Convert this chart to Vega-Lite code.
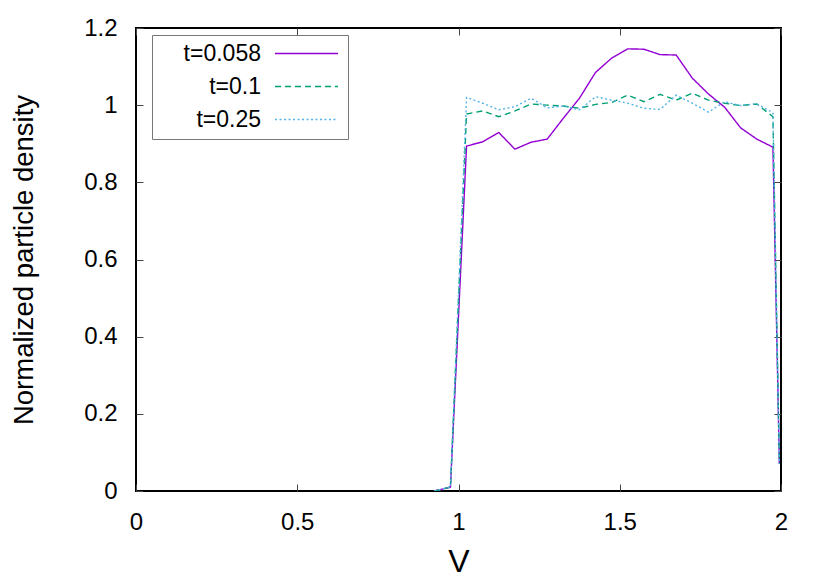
{
  "$schema": "https://vega.github.io/schema/vega-lite/v6.json",
  "autosize": "none",
  "width": 645,
  "height": 463,
  "padding": {"left": 136, "top": 28, "right": 49, "bottom": 90},
  "background": "white",
  "config": {
    "view": {"stroke": "black", "strokeWidth": 2},
    "font": "Liberation Sans",
    "legend": {
      "orient": "none", "legendX": 16, "legendY": 7, "title": null,
      "symbolType": "M-3,0H3", "symbolSize": 441, "symbolStrokeWidth": 1.4, "symbolFillColor": "transparent",
      "labelFontSize": 23, "labelColor": "black", "labelAlign": "right", "labelBaseline": "middle",
      "labelOffset": -57, "symbolOffset": 136, "padding": 7, "rowPadding": 9,
      "strokeColor": "#777", "fillColor": "white", "cornerRadius": 0
    }
  },
  "datasets": {
    "d": [
      {"v": 0.925, "y": 0, "t": "t=0.058"},
      {"v": 0.975, "y": 0.01, "t": "t=0.058"},
      {"v": 1.025, "y": 0.894, "t": "t=0.058"},
      {"v": 1.075, "y": 0.905, "t": "t=0.058"},
      {"v": 1.125, "y": 0.929, "t": "t=0.058"},
      {"v": 1.175, "y": 0.886, "t": "t=0.058"},
      {"v": 1.225, "y": 0.904, "t": "t=0.058"},
      {"v": 1.275, "y": 0.912, "t": "t=0.058"},
      {"v": 1.325, "y": 0.966, "t": "t=0.058"},
      {"v": 1.375, "y": 1.018, "t": "t=0.058"},
      {"v": 1.425, "y": 1.085, "t": "t=0.058"},
      {"v": 1.475, "y": 1.122, "t": "t=0.058"},
      {"v": 1.525, "y": 1.146, "t": "t=0.058"},
      {"v": 1.575, "y": 1.145, "t": "t=0.058"},
      {"v": 1.625, "y": 1.131, "t": "t=0.058"},
      {"v": 1.675, "y": 1.130, "t": "t=0.058"},
      {"v": 1.725, "y": 1.070, "t": "t=0.058"},
      {"v": 1.775, "y": 1.029, "t": "t=0.058"},
      {"v": 1.825, "y": 0.995, "t": "t=0.058"},
      {"v": 1.875, "y": 0.941, "t": "t=0.058"},
      {"v": 1.925, "y": 0.912, "t": "t=0.058"},
      {"v": 1.975, "y": 0.891, "t": "t=0.058"},
      {"v": 1.995, "y": 0.07, "t": "t=0.058"},
      {"v": 0.925, "y": 0, "t": "t=0.1"},
      {"v": 0.975, "y": 0.01, "t": "t=0.1"},
      {"v": 1.025, "y": 0.977, "t": "t=0.1"},
      {"v": 1.075, "y": 0.985, "t": "t=0.1"},
      {"v": 1.125, "y": 0.970, "t": "t=0.1"},
      {"v": 1.175, "y": 0.985, "t": "t=0.1"},
      {"v": 1.225, "y": 1.003, "t": "t=0.1"},
      {"v": 1.275, "y": 1.000, "t": "t=0.1"},
      {"v": 1.325, "y": 0.998, "t": "t=0.1"},
      {"v": 1.375, "y": 0.992, "t": "t=0.1"},
      {"v": 1.425, "y": 1.002, "t": "t=0.1"},
      {"v": 1.475, "y": 1.007, "t": "t=0.1"},
      {"v": 1.525, "y": 1.026, "t": "t=0.1"},
      {"v": 1.575, "y": 1.009, "t": "t=0.1"},
      {"v": 1.625, "y": 1.028, "t": "t=0.1"},
      {"v": 1.675, "y": 1.013, "t": "t=0.1"},
      {"v": 1.725, "y": 1.031, "t": "t=0.1"},
      {"v": 1.775, "y": 1.013, "t": "t=0.1"},
      {"v": 1.825, "y": 1.005, "t": "t=0.1"},
      {"v": 1.875, "y": 0.999, "t": "t=0.1"},
      {"v": 1.925, "y": 1.003, "t": "t=0.1"},
      {"v": 1.975, "y": 0.970, "t": "t=0.1"},
      {"v": 1.995, "y": 0.07, "t": "t=0.1"},
      {"v": 0.925, "y": 0, "t": "t=0.25"},
      {"v": 0.975, "y": 0.01, "t": "t=0.25"},
      {"v": 1.025, "y": 1.020, "t": "t=0.25"},
      {"v": 1.075, "y": 1.005, "t": "t=0.25"},
      {"v": 1.125, "y": 0.988, "t": "t=0.25"},
      {"v": 1.175, "y": 0.996, "t": "t=0.25"},
      {"v": 1.225, "y": 1.018, "t": "t=0.25"},
      {"v": 1.275, "y": 0.993, "t": "t=0.25"},
      {"v": 1.325, "y": 0.998, "t": "t=0.25"},
      {"v": 1.375, "y": 0.988, "t": "t=0.25"},
      {"v": 1.425, "y": 1.022, "t": "t=0.25"},
      {"v": 1.475, "y": 1.013, "t": "t=0.25"},
      {"v": 1.525, "y": 1.005, "t": "t=0.25"},
      {"v": 1.575, "y": 0.992, "t": "t=0.25"},
      {"v": 1.625, "y": 0.989, "t": "t=0.25"},
      {"v": 1.675, "y": 1.026, "t": "t=0.25"},
      {"v": 1.725, "y": 1.005, "t": "t=0.25"},
      {"v": 1.775, "y": 0.982, "t": "t=0.25"},
      {"v": 1.825, "y": 1.009, "t": "t=0.25"},
      {"v": 1.875, "y": 0.999, "t": "t=0.25"},
      {"v": 1.925, "y": 1.004, "t": "t=0.25"},
      {"v": 1.975, "y": 0.980, "t": "t=0.25"},
      {"v": 1.995, "y": 0.07, "t": "t=0.25"}
    ]
  },
  "data": {"name": "d"},
  "layer": [
    {
      "mark": {"type": "line", "strokeWidth": 1.4, "clip": true},
      "encoding": {
        "x": {
          "field": "v", "type": "quantitative",
          "scale": {"domain": [0, 2], "nice": false, "zero": false},
          "axis": {
            "orient": "bottom", "values": [0, 0.5, 1, 1.5, 2], "format": "~g",
            "domain": false, "grid": false, "tickSize": -7, "tickColor": "#444", "tickWidth": 1,
            "labelFontSize": 24, "labelColor": "black", "labelPadding": 26, "labelFlush": false,
            "title": "V", "titleFontSize": 32, "titleFontWeight": "normal", "titleColor": "black", "titlePadding": 12
          }
        },
        "y": {
          "field": "y", "type": "quantitative",
          "scale": {"domain": [0, 1.2], "nice": false, "zero": false},
          "axis": {
            "orient": "left", "values": [0, 0.2, 0.4, 0.6, 0.8, 1, 1.2], "format": "~g",
            "domain": false, "grid": false, "tickSize": -7, "tickColor": "#444", "tickWidth": 1,
            "labelFontSize": 24, "labelColor": "black", "labelPadding": 26, "labelFlush": false,
            "title": "Normalized particle density", "titleFontSize": 27.5, "titleFontWeight": "normal", "titleColor": "black", "titlePadding": 45
          }
        },
        "color": {
          "field": "t", "type": "nominal",
          "scale": {"domain": ["t=0.058", "t=0.1", "t=0.25"], "range": ["#9400D3", "#009E73", "#56B4E9"]},
          "legend": {"orient": "none", "title": null}
        },
        "strokeDash": {
          "field": "t", "type": "nominal",
          "scale": {"domain": ["t=0.058", "t=0.1", "t=0.25"], "range": [[1, 0], [6, 4], [2, 2.5]]},
          "legend": {"orient": "none", "title": null}
        }
      }
    },
    {
      "mark": {"type": "point", "opacity": 0},
      "encoding": {
        "x": {
          "field": "v", "type": "quantitative",
          "axis": {"orient": "top", "values": [0, 0.5, 1, 1.5, 2], "labels": false, "title": null,
                   "domain": false, "grid": false, "tickSize": -7, "tickColor": "#444", "tickWidth": 1}
        },
        "y": {
          "field": "y", "type": "quantitative",
          "axis": {"orient": "right", "values": [0, 0.2, 0.4, 0.6, 0.8, 1, 1.2], "labels": false, "title": null,
                   "domain": false, "grid": false, "tickSize": -7, "tickColor": "#444", "tickWidth": 1}
        }
      }
    }
  ],
  "resolve": {"axis": {"x": "independent", "y": "independent"}}
}
